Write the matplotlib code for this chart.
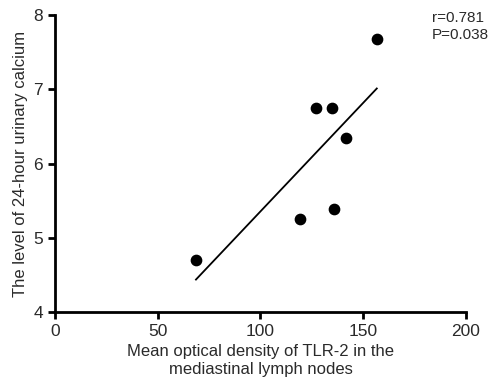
import numpy as np
import matplotlib
matplotlib.use("Agg")
import matplotlib.pyplot as plt

plt.rcParams['font.family'] = ['Liberation Sans', 'DejaVu Sans']

x_vals = [68.6, 119.2, 135.8, 126.9, 134.6, 141.8, 156.6]
y_vals = [4.70, 5.25, 5.39, 6.75, 6.75, 6.34, 7.68]
x_ticks = [0, 50, 100, 150, 200]
y_ticks = [4, 5, 6, 7, 8]
stats_text = "r=0.781\nP=0.038"

fig = plt.figure(figsize=(4.94, 3.89), dpi=100)
ax = fig.add_axes([0.1113, 0.198, 0.832, 0.763])
ax.scatter(x_vals, y_vals, s=55, color='black', zorder=3)
slope, intercept = np.polyfit(x_vals, y_vals, 1)
xf = np.array([min(x_vals), max(x_vals)])
ax.plot(xf, slope * xf + intercept, color='black', lw=1.3)

ax.set_xlim(0, 200)
ax.set_ylim(4, 8)
ax.set_xticks(x_ticks)
ax.set_yticks(y_ticks)
for s in ['top', 'right']:
    ax.spines[s].set_visible(False)
for s in ['left', 'bottom']:
    ax.spines[s].set_linewidth(2)
ax.tick_params(width=2, length=5, labelsize=12.5, colors='black', labelcolor='#2a2a2a')
ax.set_xlabel("Mean optical density of TLR-2 in the\nmediastinal lymph nodes", fontsize=12, color='#2a2a2a')
ax.set_ylabel("The level of 24-hour urinary calcium", fontsize=12, color='#2a2a2a')
fig.text(0.874, 0.972, stats_text, fontsize=11, va='top', ha='left', color='#2a2a2a', linespacing=1.25)

fig.savefig("out.png", dpi=100)
